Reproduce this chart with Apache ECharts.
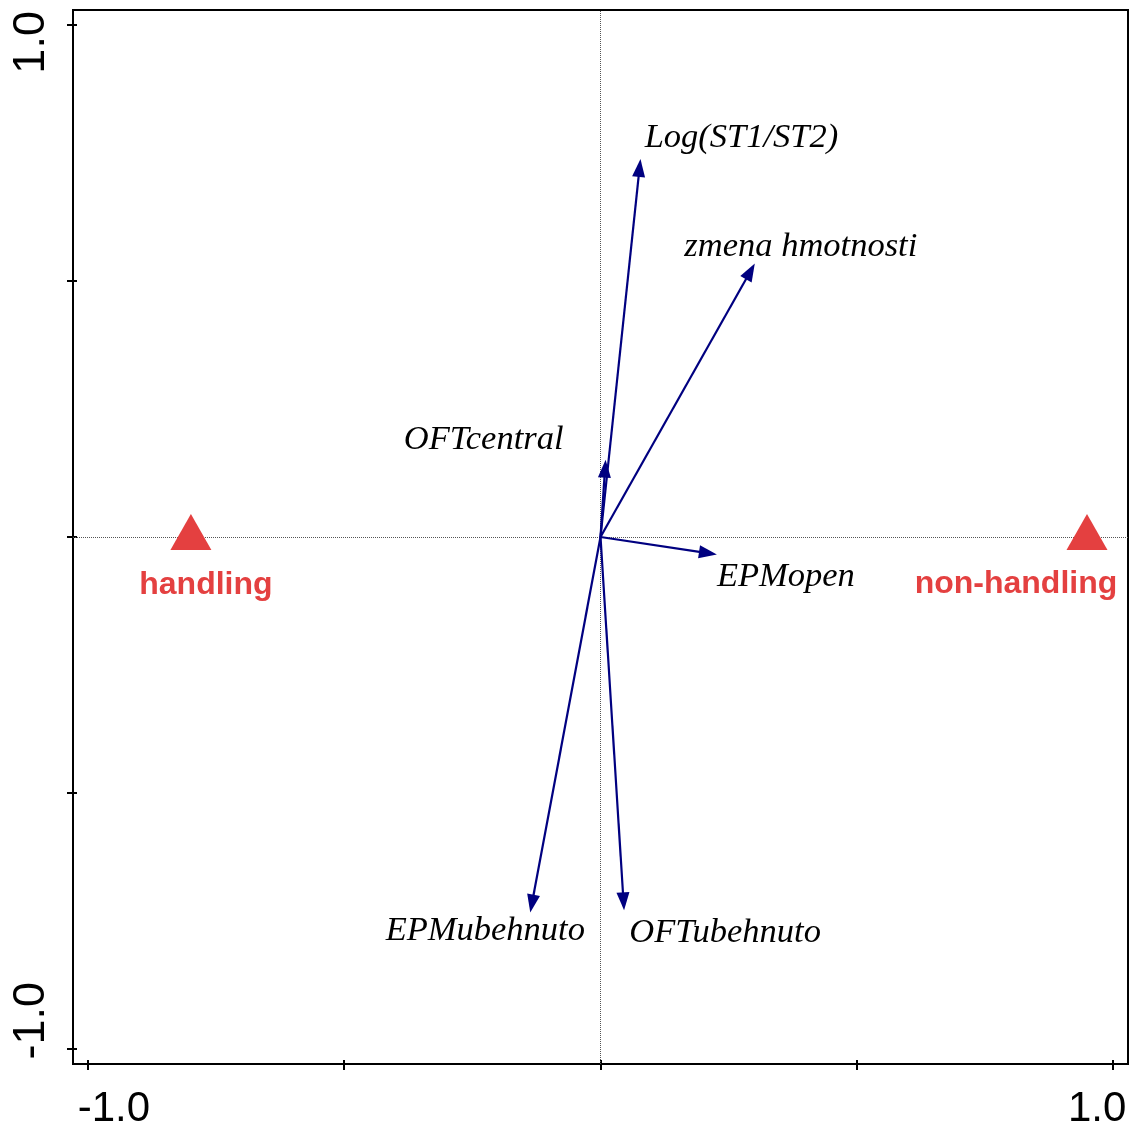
<!DOCTYPE html>
<html><head><meta charset="utf-8">
<script src="https://cdn.jsdelivr.net/npm/echarts@6/dist/echarts.min.js"></script>
<style>html,body{margin:0;padding:0;background:#fff}#c{width:1131px;height:1126px}</style>
</head><body><div id="c"></div>
<script>
// ---- data ----
const variableNames = ['Log(ST1/ST2)', 'zmena hmotnosti', 'OFTcentral', 'EPMopen', 'EPMubehnuto', 'OFTubehnuto'];
const variableX = [0.078, 0.301, 0.010, 0.227, -0.137, 0.046];
const variableY = [0.738, 0.534, 0.151, -0.034, -0.733, -0.729];
const groupNames = ['handling', 'non-handling'];
const groupX = [-0.799, 0.949];
const groupY = [0, 0];
const tickValues = [-1, -0.5, 0, 0.5, 1];
const tickLabelValues = [-1, 1];

// ---- layout (pixels) ----
const varLabelOffsets = [[101, -21], [46, -17], [-122, -20], [69, 23], [-45, 19], [101, 23]];
const groupLabelOffsets = [[15, 53], [-71, 52]];

const RED = '#e44040';
const NAVY = '#000080';
const AXMIN = -1.029, AXMAX = 1.029;

const chart = echarts.init(document.getElementById('c'), null, {renderer: 'canvas'});

function axisCommon(isY) {
  const fs = isY ? 45 : 42;
  return {
    type: 'value', min: AXMIN, max: AXMAX,
    splitLine: {show: false},
    axisLine: {show: true, onZero: false, lineStyle: {color: '#000', width: 2}},
    axisTick: {show: true, customValues: tickValues, length: 6, lineStyle: {color: '#000', width: 2}},
    axisLabel: {
      customValues: tickLabelValues,
      rotate: isY ? 90 : 0,
      margin: isY ? 19 : 24,
      color: '#000', fontSize: fs, fontFamily: '"Liberation Sans", Arial, sans-serif',
      formatter: v => (v < 0 ? '{a|' : '{b|') + v.toFixed(1) + '}',
      rich: isY ? {
        a: {fontSize: fs, fontFamily: '"Liberation Sans", Arial', color: '#000', padding: [0, 0, 0, 57]},
        b: {fontSize: fs, fontFamily: '"Liberation Sans", Arial', color: '#000', padding: [0, 35, 0, 0]}
      } : {
        a: {fontSize: fs, fontFamily: '"Liberation Sans", Arial', color: '#000', padding: [0, 0, 0, 52]},
        b: {fontSize: fs, fontFamily: '"Liberation Sans", Arial', color: '#000', padding: [0, 32, 0, 0]}
      }
    }
  };
}
function innerTickAxis() {
  return {
    type: 'value', min: AXMIN, max: AXMAX, splitLine: {show: false},
    axisLine: {show: false, onZero: false},
    axisTick: {show: true, inside: true, customValues: tickValues, length: 4, lineStyle: {color: '#000', width: 2}},
    axisLabel: {show: false}
  };
}

const xA = [axisCommon(false), Object.assign(innerTickAxis(), {position: 'bottom'})];
const yA = [axisCommon(true), Object.assign(innerTickAxis(), {position: 'left'})];

const option = {
  animation: false,
  backgroundColor: '#fff',
  grid: {left: 73, right: 3, top: 10, bottom: 62, show: true, borderColor: '#000', borderWidth: 2,
    containLabel: false, outerBoundsMode: 'none'},
  xAxis: xA,
  yAxis: yA,
  series: [
    {
      type: 'scatter', z: 2,
      data: groupNames.map((n, i) => ({name: n, value: [groupX[i], groupY[i]], label: {offset: groupLabelOffsets[i]}})),
      symbol: 'triangle', symbolSize: [41, 36], symbolOffset: [0, -5],
      itemStyle: {color: RED, opacity: 1},
      label: {show: true, position: 'inside', formatter: '{b}', color: RED, fontSize: 32, fontWeight: 'bold',
        fontFamily: '"Liberation Sans", Arial, sans-serif', align: 'center', verticalAlign: 'middle'},
      markLine: {
        silent: true, symbol: 'none', label: {show: false}, z: 1,
        lineStyle: {type: 'dotted', color: '#555', width: 1},
        emphasis: {disabled: true},
        data: [{xAxis: 0}, {yAxis: 0}]
      }
    },
    {
      type: 'custom', z: 3,
      data: variableX.map((x, i) => [x, variableY[i]]),
      renderItem(params, api) {
        const i = params.dataIndex;
        const o = api.coord([0, 0]);
        const t = api.coord([api.value(0), api.value(1)]);
        const dx = t[0] - o[0], dy = t[1] - o[1];
        const len = Math.hypot(dx, dy);
        const ux = dx / len, uy = dy / len;
        const hl = 18, hw = 6.5;
        const bx = t[0] - ux * hl, by = t[1] - uy * hl;
        const off = varLabelOffsets[i];
        return {
          type: 'group',
          children: [
            {type: 'line', shape: {x1: o[0], y1: o[1], x2: bx + ux * 2, y2: by + uy * 2}, style: {stroke: NAVY, lineWidth: 2.2}},
            {type: 'polygon', shape: {points: [[t[0], t[1]], [bx - uy * hw, by + ux * hw], [bx + uy * hw, by - ux * hw]]}, style: {fill: NAVY}},
            {type: 'text', x: t[0] + off[0], y: t[1] + off[1],
              style: {text: variableNames[i], font: 'italic 34.5px "Liberation Serif", "Times New Roman", serif', fill: '#000', align: 'center', verticalAlign: 'middle'}}
          ]
        };
      }
    }
  ]
};
chart.setOption(option);
</script>
</body></html>
